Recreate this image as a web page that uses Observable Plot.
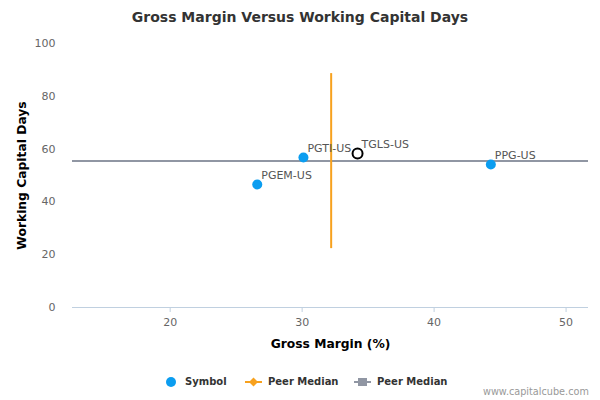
<!DOCTYPE html>
<html>
<head>
<meta charset="utf-8">
<script src="https://cdn.jsdelivr.net/npm/d3@7"></script>
<script src="https://cdn.jsdelivr.net/npm/@observablehq/plot@0.6"></script>
<style>
  html, body { margin: 0; padding: 0; background: #fff; }
  body { width: 600px; height: 400px; font-family: "DejaVu Sans", sans-serif; position: relative; overflow: hidden; }
  #title { height: 35px; line-height: 34px; text-align: center; font-size: 14px; font-weight: bold; color: #333; }
  #legend { position: absolute; top: 374px; left: 0; width: 600px; font-size: 10px; font-weight: bold; color: #333; }
  .item { position: absolute; top: 0; height: 16px; line-height: 16px; white-space: nowrap; }
  .item svg { vertical-align: middle; margin-right: 6px; }
  #credit { position: absolute; top: 386px; left: 483px; font-size: 9.7px; color: #999; }
</style>
</head>
<body>
<div id="title">Gross Margin Versus Working Capital Days</div>
<div id="chart"></div>
<div id="legend"></div>
<div id="credit">www.capitalcube.com</div>
<script>
// Data
const symbols = ["PGEM-US", "PGTI-US", "TGLS-US", "PPG-US"];
const grossMargin = [26.6, 30.1, 34.2, 44.3];
const workingCapitalDays = [46.6, 56.8, 58.3, 54.2];
const isSubject = [false, false, true, false];
const peerMedianX = 32.2;          // gross margin peer median
const peerMedianXSpan = [22.3, 88.6];
const peerMedianY = 55.5;          // working capital days peer median
const xDomain = [12.6, 51.7];
const yDomain = [0, 100];
const xTicks = [20, 30, 40, 50];
const yTicks = [0, 20, 40, 60, 80, 100];

const points = symbols.map((s, i) => ({symbol: s, x: grossMargin[i], y: workingCapitalDays[i], subject: isSubject[i]}));
const vLine = [{x: peerMedianX, y1: peerMedianXSpan[0], y2: peerMedianXSpan[1]}];

const BLUE = "#0b9df0", ORANGE = "#f7a11e", GRAY = "#9096a3", AXIS = "#c0d0e0";

const chart = Plot.plot({
  width: 600,
  height: 322,
  marginTop: 8,
  marginBottom: 50,
  marginLeft: 72,
  marginRight: 12,
  style: {fontFamily: "DejaVu Sans, sans-serif", fontSize: "11px", color: "#666", background: "#fff"},
  x: {domain: xDomain, ticks: xTicks},
  y: {domain: yDomain, ticks: yTicks},
  marks: [
    Plot.ruleY([0], {stroke: AXIS, strokeWidth: 1, x1: xDomain[0], x2: xDomain[1]}),
    Plot.axisX({ticks: xTicks, tickSize: 5, stroke: AXIS, tickPadding: 6, fill: "#666",
      label: "Gross Margin (%)", labelAnchor: "center", labelArrow: "none", labelOffset: 40}),
    Plot.axisY({ticks: yTicks, tickSize: 0, tickPadding: 17, fill: "#666",
      label: "Working Capital Days", labelAnchor: "center", labelArrow: "none", labelOffset: 55}),
    Plot.ruleY([peerMedianY], {stroke: GRAY, strokeWidth: 2, x1: xDomain[0], x2: xDomain[1]}),
    Plot.ruleX(vLine, {x: "x", y1: "y1", y2: "y2", stroke: ORANGE, strokeWidth: 2}),
    Plot.dot(points.filter(d => !d.subject), {x: "x", y: "y", r: 5, fill: BLUE, stroke: "none"}),
    Plot.dot(points.filter(d => d.subject), {x: "x", y: "y", r: 5, fill: "#fff", stroke: "#000", strokeWidth: 2}),
    Plot.text(points, {x: "x", y: "y", text: "symbol", dx: 4, dy: -9, textAnchor: "start", fill: "#555", fontSize: 11})
  ]
});
// style axis labels
d3.select(chart).selectAll("[aria-label='x-axis label'] text, [aria-label='y-axis label'] text")
  .attr("font-weight", "bold").attr("font-size", 12.3).attr("fill", "#000");
document.getElementById("chart").appendChild(chart);

// Legend
const legendItems = [
  {label: "Symbol", left: 165, kind: "dot"},
  {label: "Peer Median", left: 245, kind: "diamond"},
  {label: "Peer Median", left: 354, kind: "square"}
];
const legend = document.getElementById("legend");
for (const it of legendItems) {
  const div = document.createElement("div");
  div.className = "item";
  div.style.left = it.left + "px";
  let sw;
  if (it.kind === "dot") {
    sw = `<svg width="12" height="12" style="margin-right:8px"><circle cx="6" cy="6" r="5" fill="${BLUE}"/></svg>`;
  } else if (it.kind === "diamond") {
    sw = `<svg width="17" height="12"><line x1="0" y1="6" x2="17" y2="6" stroke="${ORANGE}" stroke-width="2"/><path d="M8.5 1.5 L13 6 L8.5 10.5 L4 6 Z" fill="${ORANGE}"/></svg>`;
  } else {
    sw = `<svg width="17" height="12"><line x1="0" y1="6" x2="17" y2="6" stroke="${GRAY}" stroke-width="2"/><rect x="4" y="2" width="9" height="8" fill="${GRAY}"/></svg>`;
  }
  div.innerHTML = sw + `<span>${it.label}</span>`;
  legend.appendChild(div);
}
</script>
</body>
</html>
